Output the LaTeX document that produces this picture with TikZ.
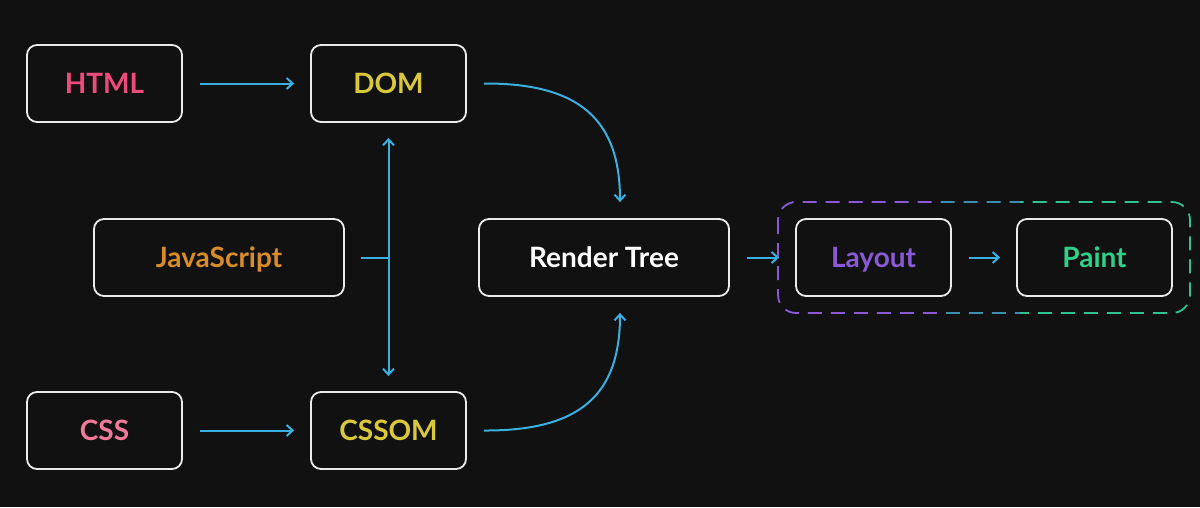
\documentclass[tikz,border=0pt]{standalone}
\usepackage{fontspec}
\setmainfont{Lato}
\usetikzlibrary{arrows.meta}
\definecolor{bg}{HTML}{111111}
\definecolor{arr}{HTML}{3AB0E0}
\definecolor{chtml}{HTML}{EE4B7C}
\definecolor{cyel}{HTML}{D9C93A}
\definecolor{cjs}{HTML}{D98C2A}
\definecolor{ccss}{HTML}{F07A9A}
\definecolor{clay}{HTML}{8A5AD6}
\definecolor{cpaint}{HTML}{2ED08A}
\definecolor{cmid}{HTML}{3A8FB0}
\begin{document}
\begin{tikzpicture}[x=1pt,y=-1pt,
 box/.style={draw=white!92!black,line width=1.8pt,rounded corners=10pt,minimum height=77pt,text height=22pt,text depth=2pt,font=\fontsize{28}{32}\selectfont\bfseries},
 con/.style={draw=arr,line width=2pt,-{Straight Barb[length=6pt,width=11pt]}}]
\fill[bg] (0,0) rectangle (1200,507);
\useasboundingbox (0,0) rectangle (1200,507);
\node[box,minimum width=155pt,text=chtml] (html) at (104.5,83.5) {HTML};
\node[box,minimum width=155pt,text=cyel] (dom) at (388.5,83.5) {DOM};
\node[box,minimum width=250pt,text=cjs] (js) at (219,257.5) {JavaScript};
\node[box,minimum width=250pt,text=white] (rt) at (604,257.5) {Render Tree};
\node[box,minimum width=155pt,text=clay] (lay) at (873.5,257.5) {Layout};
\node[box,minimum width=155pt,text=cpaint] (paint) at (1094.5,257.5) {Paint};
\node[box,minimum width=155pt,text=ccss] (css) at (104.5,430.5) {CSS};
\node[box,minimum width=155pt,text=cyel] (cssom) at (388.5,430.5) {CSSOM};
\coordinate (jsj) at (388,257.5);
\draw[con] ([xshift=17pt]html.east) -- ([xshift=-16pt]dom.west);
\draw[con] ([xshift=17pt]css.east) -- ([xshift=-16pt]cssom.west);
\draw[con] ([xshift=17pt]dom.east) .. controls (580,83) and (620,120) .. ([xshift=16pt,yshift=16pt]rt.north);
\draw[con] ([xshift=17pt]cssom.east) .. controls (580,431) and (620,395) .. ([xshift=16pt,yshift=-16pt]rt.south);
\draw[draw=arr,line width=2pt] ([xshift=16pt]js.east) -- (jsj);
\draw[con,{Straight Barb[length=6pt,width=11pt]}-{Straight Barb[length=6pt,width=11pt]}] ([yshift=-15pt]dom.south) -- ([yshift=15pt]cssom.north);
\draw[con] ([xshift=17pt]rt.east) -- ([xshift=-16pt]lay.west);
\draw[con] ([xshift=17pt]lay.east) -- ([xshift=-16pt]paint.west);
\begin{scope}
\clip (770,190) rectangle (940,330);
\draw[clay,line width=1.8pt,dash pattern=on 14pt off 9pt,rounded corners=18pt] (778,202) rectangle (1190,313);
\end{scope}
\begin{scope}
\clip (940,190) rectangle (1020,330);
\draw[cmid,line width=1.8pt,dash pattern=on 14pt off 9pt,rounded corners=18pt] (778,202) rectangle (1190,313);
\end{scope}
\begin{scope}
\clip (1020,190) rectangle (1200,330);
\draw[cpaint!80!cmid,line width=1.8pt,dash pattern=on 14pt off 9pt,rounded corners=18pt] (778,202) rectangle (1190,313);
\end{scope}
\end{tikzpicture}
\end{document}
